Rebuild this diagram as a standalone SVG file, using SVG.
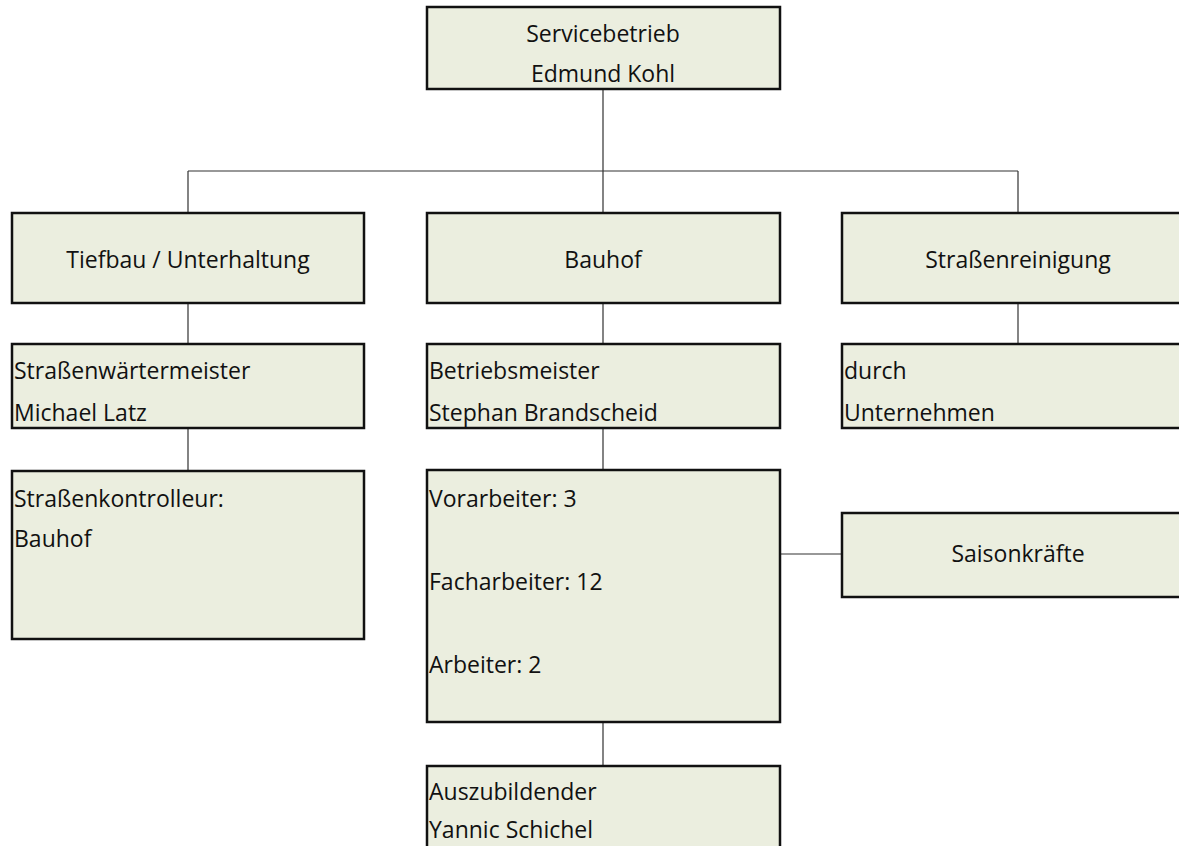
<svg xmlns="http://www.w3.org/2000/svg" width="1179" height="846" viewBox="0 0 1179 846">
<style>
.box{fill:#EBEEDF;stroke:#111;stroke-width:2.5}
.t{font-family:"Open Sans","Liberation Sans",sans-serif;font-size:23px;fill:#111}
.c{text-anchor:middle}
.con{stroke:#333;stroke-width:1.2;fill:none}
</style>
<rect width="1179" height="846" fill="#fff"/>
<g id="connectors">
<path class="con" d="M603 89V171M188 171H1018M188 171V213M603 171V213M1018 171V213"/>
<path class="con" d="M188 303V344M188 428V471"/>
<path class="con" d="M603 303V344M603 428V470M603 722V766"/>
<path class="con" d="M1018 303V344"/>
<path class="con" d="M780 554H842"/>
</g>
<g id="servicebetrieb">
<rect class="box" x="427" y="7" width="353" height="82"/>
<text class="t c" x="603" y="42">Servicebetrieb</text>
<text class="t c" x="603" y="82">Edmund Kohl</text>
</g>
<g id="tiefbau">
<rect class="box" x="12" y="213" width="352" height="90"/>
<text class="t c" x="188" y="268">Tiefbau / Unterhaltung</text>
</g>
<g id="bauhof">
<rect class="box" x="427" y="213" width="353" height="90"/>
<text class="t c" x="603" y="268">Bauhof</text>
</g>
<g id="strassenreinigung">
<rect class="box" x="842" y="213" width="360" height="90"/>
<text class="t c" x="1018" y="268">Straßenreinigung</text>
</g>
<g id="strassenwaertermeister">
<rect class="box" x="12" y="344" width="352" height="84"/>
<text class="t" x="14" y="379">Straßenwärtermeister</text>
<text class="t" x="14" y="421">Michael Latz</text>
</g>
<g id="betriebsmeister">
<rect class="box" x="427" y="344" width="353" height="84"/>
<text class="t" x="429" y="379">Betriebsmeister</text>
<text class="t" x="429" y="421">Stephan Brandscheid</text>
</g>
<g id="durch">
<rect class="box" x="842" y="344" width="360" height="84"/>
<text class="t" x="844" y="379">durch</text>
<text class="t" x="844" y="421">Unternehmen</text>
</g>
<g id="strassenkontrolleur">
<rect class="box" x="12" y="471" width="352" height="168"/>
<text class="t" x="14" y="507">Straßenkontrolleur:</text>
<text class="t" x="14" y="547">Bauhof</text>
</g>
<g id="arbeiter">
<rect class="box" x="427" y="470" width="353" height="252"/>
<text class="t" x="429" y="507">Vorarbeiter: 3</text>
<text class="t" x="429" y="590">Facharbeiter: 12</text>
<text class="t" x="429" y="673">Arbeiter: 2</text>
</g>
<g id="saisonkraefte">
<rect class="box" x="842" y="513" width="360" height="84"/>
<text class="t c" x="1018" y="562">Saisonkräfte</text>
</g>
<g id="auszubildender">
<rect class="box" x="427" y="766" width="353" height="100"/>
<text class="t" x="429" y="800">Auszubildender</text>
<text class="t" x="429" y="838">Yannic Schichel</text>
</g>
</svg>
